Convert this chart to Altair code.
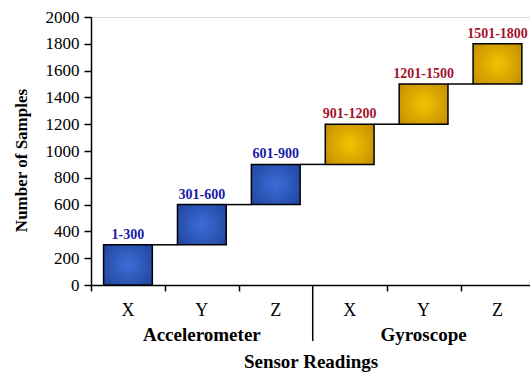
import altair as alt
import pandas as pd

groups = ["Accelerometer", "Accelerometer", "Accelerometer", "Gyroscope", "Gyroscope", "Gyroscope"]
axis_names = ["X", "Y", "Z", "X", "Y", "Z"]
range_labels = ["1-300", "301-600", "601-900", "901-1200", "1201-1500", "1501-1800"]
starts = [0, 300, 600, 900, 1200, 1500]
ends = [300, 600, 900, 1200, 1500, 1800]
y_ticks = [0, 200, 400, 600, 800, 1000, 1200, 1400, 1600, 1800, 2000]

W, H = 439, 268
SERIF = "Liberation Serif"
HALF = 0.33

rows = []
for i in range(6):
    rows.append(dict(pos=i + 0.5, x0=i + 0.5 - HALF, x1=i + 0.5 + HALF,
                     start=starts[i], end=ends[i], group=groups[i],
                     axis=axis_names[i], rng=range_labels[i]))
df = pd.DataFrame(rows)

conn = []
for i in range(5):
    conn.append(dict(xa=i + 0.5 + HALF, xb=i + 1.5 - HALF, yv=ends[i]))
cdf = pd.DataFrame(conn)

grp_df = pd.DataFrame({"group": ["Accelerometer", "Gyroscope"], "pos": [1.5, 4.5]})

xscale = alt.Scale(domain=[0, 5.94], nice=False, zero=False)
yscale = alt.Scale(domain=[0, 2000], nice=False)

blue_grad = {"gradient": "radial", "x1": 0.5, "y1": 0.5, "r1": 0, "x2": 0.5, "y2": 0.5, "r2": 0.75,
             "stops": [{"offset": 0, "color": "#3a6ed8"}, {"offset": 1, "color": "#1d3d92"}]}
gold_grad = {"gradient": "radial", "x1": 0.5, "y1": 0.5, "r1": 0, "x2": 0.5, "y2": 0.5, "r2": 0.75,
             "stops": [{"offset": 0, "color": "#f3c300"}, {"offset": 1, "color": "#b98300"}]}

xaxis = alt.Axis(values=[0, 1, 2, 4, 5], labels=False, grid=False, tickSize=6, tickColor="black",
                 domainColor="black", domainWidth=1.5, tickWidth=1.5, title="Sensor Readings",
                 titleFont=SERIF, titleFontSize=19, titleFontWeight="bold", titleColor="black",
                 titlePadding=61)
yaxis = alt.Axis(values=y_ticks, format="d", labelOverlap=False, grid=False, tickSize=7,
                 tickColor="black", domainColor="black", domainWidth=1.5, tickWidth=1.5,
                 labelFont=SERIF, labelFontSize=17, labelColor="black", labelPadding=5,
                 title="Number of Samples", titleFont=SERIF, titleFontSize=17,
                 titleFontWeight="bold", titleColor="black", titlePadding=15, titleY=143)


def X(field):
    return alt.X(field, scale=xscale, axis=xaxis)


def Y(field):
    return alt.Y(field, scale=yscale, axis=yaxis)


base = alt.Chart(df)

conn_lines = alt.Chart(cdf).mark_rule(color="black", strokeWidth=1.5).encode(
    x=X("xa:Q"), x2="xb:Q", y=Y("yv:Q"))

bars_a = base.transform_filter(alt.datum.group == "Accelerometer").mark_rect(
    fill=blue_grad, stroke="black", strokeWidth=1.5).encode(
    x=X("x0:Q"), x2="x1:Q", y=Y("start:Q"), y2="end:Q")
bars_g = base.transform_filter(alt.datum.group == "Gyroscope").mark_rect(
    fill=gold_grad, stroke="black", strokeWidth=1.5).encode(
    x=X("x0:Q"), x2="x1:Q", y=Y("start:Q"), y2="end:Q")

labels = base.mark_text(font=SERIF, fontSize=14, fontWeight="bold", baseline="bottom", dy=-3).encode(
    x=X("pos:Q"), y=Y("end:Q"),
    text="rng:N",
    color=alt.Color("group:N", scale=alt.Scale(domain=["Accelerometer", "Gyroscope"],
                                                range=["#1a1aa8", "#a3132d"]), legend=None))

axis_txt = base.mark_text(font=SERIF, fontSize=18, color="black", baseline="middle").encode(
    x=X("pos:Q"), y=alt.value(H + 26), text="axis:N")

grp_txt = alt.Chart(grp_df).mark_text(font=SERIF, fontSize=19, fontWeight="bold", color="black",
                                      baseline="middle").encode(
    x=X("pos:Q"), y=alt.value(H + 50), text="group:N")

sep = alt.Chart(pd.DataFrame({"s": [3]})).mark_rule(color="black", strokeWidth=1.5).encode(
    x=X("s:Q"), y=alt.value(H), y2=alt.value(H + 56))

chart = alt.layer(conn_lines, bars_a, bars_g, labels, axis_txt, grp_txt, sep).properties(
    width=W, height=H,
    autosize=alt.AutoSizeParams(type="none"),
    padding={"left": 91, "top": 17, "right": 0, "bottom": 88},
).configure_view(stroke=None).configure(background="white")

chart.save("out.html", embed_options={"renderer": "svg", "actions": False})
